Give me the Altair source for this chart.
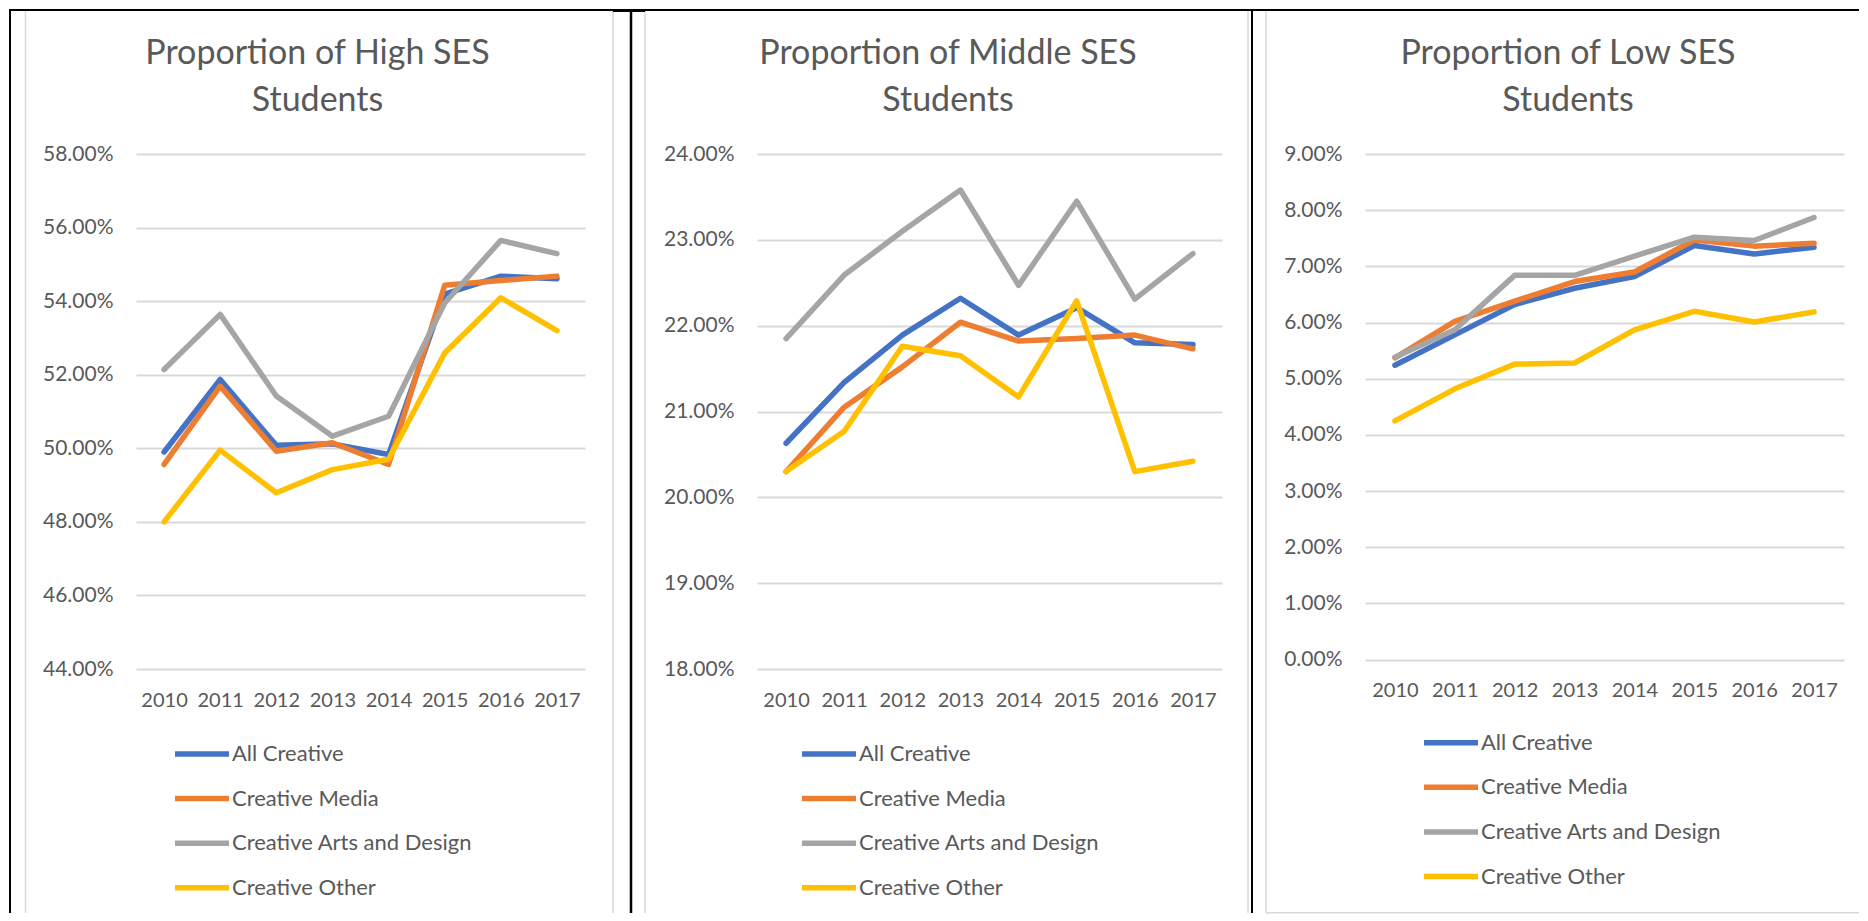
import altair as alt
import pandas as pd

years = ["2010", "2011", "2012", "2013", "2014", "2015", "2016", "2017"]
series = ["All Creative", "Creative Media", "Creative Arts and Design", "Creative Other"]
colors = ["#4472C4", "#ED7D31", "#A5A5A5", "#FFC000"]

# Proportion of High SES students (%)
high_all = [49.90, 51.87, 50.08, 50.12, 49.83, 54.19, 54.68, 54.61]
high_media = [49.56, 51.69, 49.92, 50.15, 49.56, 54.43, 54.56, 54.68]
high_arts = [52.14, 53.64, 51.42, 50.33, 50.87, 53.95, 55.65, 55.29]
high_other = [48.00, 49.95, 48.79, 49.42, 49.70, 52.59, 54.09, 53.20]

# Proportion of Middle SES students (%)
mid_all = [20.63, 21.34, 21.89, 22.32, 21.89, 22.21, 21.80, 21.78]
mid_media = [20.30, 21.05, 21.52, 22.04, 21.82, 21.85, 21.89, 21.73]
mid_arts = [21.85, 22.59, 23.10, 23.58, 22.47, 23.45, 22.31, 22.84]
mid_other = [20.30, 20.77, 21.76, 21.65, 21.17, 22.29, 20.30, 20.42]

# Proportion of Low SES students (%)
low_all = [5.24, 5.78, 6.32, 6.61, 6.82, 7.37, 7.22, 7.34]
low_media = [5.37, 6.02, 6.38, 6.73, 6.90, 7.47, 7.36, 7.41]
low_arts = [5.38, 5.87, 6.84, 6.84, 7.18, 7.52, 7.46, 7.87]
low_other = [4.25, 4.82, 5.26, 5.28, 5.87, 6.20, 6.01, 6.19]

high_ticks = [0.44, 0.46, 0.48, 0.50, 0.52, 0.54, 0.56, 0.58]
mid_ticks = [0.18, 0.19, 0.20, 0.21, 0.22, 0.23, 0.24]
low_ticks = [0.00, 0.01, 0.02, 0.03, 0.04, 0.05, 0.06, 0.07, 0.08, 0.09]

FONT = "Lato"
TXT = "#595959"
GRID = "#D9D9D9"


def make_df(vals_list):
    rows = []
    for s, vals in zip(series, vals_list):
        for y, v in zip(years, vals):
            rows.append({"Year": y, "Series": s, "Value": v / 100.0})
    return pd.DataFrame(rows)


def panel(df, title, dx, ticks, w, h, legx, legy):
    lines = alt.Chart(df).mark_line(
        strokeWidth=5.5, strokeCap="round", strokeJoin="round"
    ).encode(
        x=alt.X(
            "Year:O",
            scale=alt.Scale(type="point", padding=0.5),
            axis=alt.Axis(
                title=None, labelAngle=0, domain=False, ticks=False, grid=False,
                labelFont=FONT, labelFontSize=20, labelColor=TXT, labelPadding=21,
            ),
        ),
        y=alt.Y(
            "Value:Q",
            scale=alt.Scale(domain=[ticks[0], ticks[-1]], nice=False, zero=False),
            axis=alt.Axis(
                title=None, values=ticks, format=".2%", domain=False, ticks=False,
                grid=True, gridColor=GRID, gridWidth=2,
                labelFont=FONT, labelFontSize=21, labelColor=TXT, labelPadding=23,
            ),
        ),
        color=alt.Color(
            "Series:N",
            scale=alt.Scale(domain=series, range=colors),
            legend=alt.Legend(
                title=None, orient="none", legendX=legx, legendY=legy,
                direction="vertical", symbolType="stroke", symbolSize=2916,
                symbolStrokeWidth=5.5, labelFont=FONT, labelFontSize=22,
                labelColor=TXT, labelOffset=0, rowPadding=3.6, labelLimit=400,
            ),
        ),
    )
    return lines.properties(
        width=w, height=h,
        title=alt.TitleParams(
            text=title, font=FONT, fontSize=34, fontWeight="normal", color=TXT,
            anchor="middle", dx=dx, lineHeight=47, offset=25,
        ),
    )


dummy = pd.DataFrame({"d": [0]})


def vrule(x, y1, y2, color, sw):
    return alt.Chart(dummy).mark_rule(color=color, strokeWidth=sw).encode(
        x=alt.value(x), y=alt.value(y1), y2=alt.value(y2)
    )


def hrule(y, x1, x2, color, sw):
    return alt.Chart(dummy).mark_rule(color=color, strokeWidth=sw).encode(
        y=alt.value(y), x=alt.value(x1), x2=alt.value(x2)
    )


# frame decorations, drawn in the first spacer (origin = its top-left corner)
decor = alt.layer(
    vrule(-559.5, -143, 759, GRID, 1.5),
    vrule(28, -143, 759, GRID, 1.5),
    vrule(60, -143, 759, GRID, 1.5),
    vrule(663, -143, 759, GRID, 1.5),
    vrule(681, -143, 758.7, GRID, 1.5),
    hrule(758.7, 681, 1274, GRID, 1.5),
    hrule(-144, -576, 1274, "black", 2),
    hrule(-143.5, 28, 60, "black", 3),
    vrule(-575, -144, 759, "black", 2),
    vrule(46, -144, 759, "black", 2.5),
    vrule(667, -144, 759, "black", 2),
).properties(width=172, height=515)

spacer2 = alt.Chart(dummy).mark_point(opacity=0).properties(width=143, height=515)

p1 = panel(make_df([high_all, high_media, high_arts, high_other]),
           ["Proportion of High SES", "Students"], -43, high_ticks, 449, 515, 36, 570)
p2 = panel(make_df([mid_all, mid_media, mid_arts, mid_other]),
           ["Proportion of Middle SES", "Students"], -41.5, mid_ticks, 465, 515, 42, 570)
p3 = panel(make_df([low_all, low_media, low_arts, low_other]),
           ["Proportion of Low SES", "Students"], -36.5, low_ticks, 479, 505.6, 56, 558.7)

chart = alt.hconcat(
    p1, decor, p2, spacer2, p3, spacing=0, bounds="flush", padding=0
).resolve_scale(color="independent").configure_view(strokeWidth=0)

chart.save("out.html", embed_options={"renderer": "svg", "actions": False})
